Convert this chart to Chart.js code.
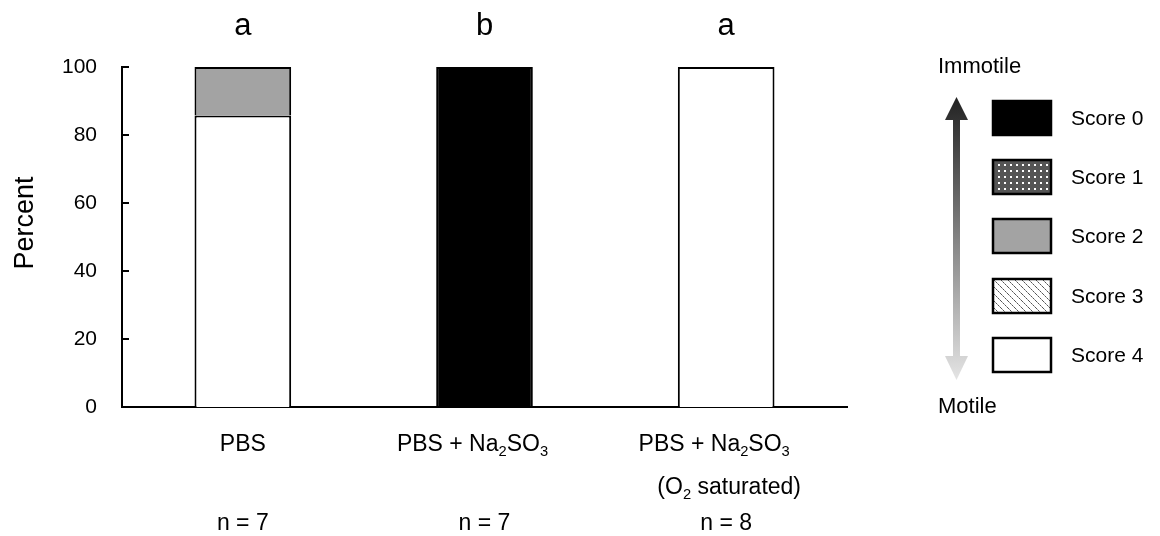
<!DOCTYPE html>
<html>
<head>
<meta charset="utf-8">
<script src="https://cdn.jsdelivr.net/npm/chart.js@4.4.1/dist/chart.umd.min.js"></script>
<style>
  html, body { margin: 0; padding: 0; background: #fff; }
  #wrap { width: 1160px; height: 536px; position: relative; }
</style>
</head>
<body>
<div id="wrap"><canvas id="chart"></canvas></div>
<script>
const categories = ['PBS', 'PBS + Na₂SO₃', 'PBS + Na₂SO₃'];
const subLabels = ['', '', '(O₂ saturated)'];
const groupSizes = ['n = 7', 'n = 7', 'n = 8'];
const sigLetters = ['a', 'b', 'a'];
const scoreNames = ['Score 0', 'Score 1', 'Score 2', 'Score 3', 'Score 4'];

// percent of animals per score, per group
const score0 = [null, 100, null];
const score1 = [null, null, null];
const score2 = [14.3, null, null];
const score3 = [null, null, null];
const score4 = [85.7, null, 100];

const yTicks = [0, 20, 40, 60, 80, 100];

const FONT = '"Liberation Sans", Arial, Helvetica, sans-serif';

function dotPattern() {
    const c = document.createElement('canvas');
    c.width = 6; c.height = 6;
    const g = c.getContext('2d');
    g.fillStyle = '#555';
    g.fillRect(0, 0, 6, 6);
    g.fillStyle = '#fff';
    g.fillRect(2, 2, 2, 2);
    return g.createPattern(c, 'repeat');
}

function hatchPattern() {
    const c = document.createElement('canvas');
    c.width = 7; c.height = 7;
    const g = c.getContext('2d');
    g.fillStyle = '#fff';
    g.fillRect(0, 0, 7, 7);
    for (let i = 0; i < 7; i++) {
        g.fillStyle = i % 2 ? '#999' : '#555';
        g.fillRect(i, i, 1, 1);
    }
    return g.createPattern(c, 'repeat');
}

const scoreColors = ['#000000', dotPattern(), '#a3a3a3', hatchPattern(), '#ffffff'];

// text with unicode subscript digits drawn as small lowered digits
function drawRich(ctx, text, cx, baseline, size) {
    const subs = '₀₁₂₃₄₅₆₇₈₉';
    const runs = [];
    for (const ch of text) {
        const k = subs.indexOf(ch);
        const sub = k >= 0;
        const c = sub ? String(k) : ch;
        if (runs.length && runs[runs.length - 1].sub === sub) runs[runs.length - 1].t += c;
        else runs.push({ t: c, sub });
    }
    const subSize = size * 0.64;
    let total = 0;
    runs.forEach(r => {
        ctx.font = (r.sub ? subSize : size) + 'px ' + FONT;
        r.w = ctx.measureText(r.t).width;
        total += r.w;
    });
    let x = cx - total / 2;
    ctx.textAlign = 'left';
    ctx.textBaseline = 'alphabetic';
    runs.forEach(r => {
        ctx.font = (r.sub ? subSize : size) + 'px ' + FONT;
        ctx.fillText(r.t, x, baseline + (r.sub ? size * 0.2 : 0));
        x += r.w;
    });
}

const extras = {
    id: 'extras',
    afterDraw(chart) {
        const ctx = chart.ctx;
        const x = chart.scales.x, y = chart.scales.y;
        const area = chart.chartArea;
        ctx.save();
        ctx.fillStyle = '#000';

        // inward y ticks
        ctx.strokeStyle = '#000';
        ctx.lineWidth = 2;
        yTicks.forEach(v => {
            const py = Math.round(y.getPixelForValue(v));
            ctx.beginPath();
            ctx.moveTo(area.left, py);
            ctx.lineTo(area.left + 7, py);
            ctx.stroke();
        });

        // category labels, letters, n
        categories.forEach((c, i) => {
            const px = x.getPixelForValue(i);
            const shift = c.includes('₂') ? -12 : 0;
            drawRich(ctx, c, px + shift, 451, 23);
            if (subLabels[i]) drawRich(ctx, subLabels[i], px + 3, 494, 23);
            drawRich(ctx, groupSizes[i], px, 530, 23);
            drawRich(ctx, sigLetters[i], px, 35, 31);
        });

        // y title
        ctx.save();
        ctx.translate(33, 223);
        ctx.rotate(-Math.PI / 2);
        ctx.font = '27px ' + FONT;
        ctx.textAlign = 'center';
        ctx.textBaseline = 'alphabetic';
        ctx.fillText('Percent', 0, 0);
        ctx.restore();

        // arrow
        const grad = ctx.createLinearGradient(0, 97, 0, 380);
        grad.addColorStop(0, '#222');
        grad.addColorStop(1, '#e4e4e4');
        ctx.fillStyle = grad;
        ctx.fillRect(953, 118, 7, 240);
        ctx.beginPath();
        ctx.moveTo(956.5, 97); ctx.lineTo(968, 120); ctx.lineTo(945, 120); ctx.closePath();
        ctx.fill();
        ctx.beginPath();
        ctx.moveTo(956.5, 380); ctx.lineTo(968, 356); ctx.lineTo(945, 356); ctx.closePath();
        ctx.fill();

        ctx.fillStyle = '#000';
        ctx.font = '22px ' + FONT;
        ctx.textAlign = 'left';
        ctx.fillText('Immotile', 938, 73);
        ctx.fillText('Motile', 938, 413);

        // legend boxes, Score 0 at top
        const tops = [101, 160, 219, 279, 338];
        scoreNames.forEach((name, i) => {
            const ds = chart.data.datasets.find(d => d.label === name);
            ctx.fillStyle = ds.backgroundColor;
            ctx.fillRect(993, tops[i], 58, 34);
            ctx.strokeStyle = '#000';
            ctx.lineWidth = 2.5;
            ctx.strokeRect(993, tops[i], 58, 34);
            ctx.fillStyle = '#000';
            ctx.font = '21px ' + FONT;
            ctx.textBaseline = 'middle';
            ctx.fillText(name, 1071, tops[i] + 18);
        });
        ctx.restore();
    }
};

const seriesData = [score4, score3, score2, score1, score0];
const datasets = [4, 3, 2, 1, 0].map((s, k) => ({
    label: scoreNames[s],
    data: seriesData[k],
    backgroundColor: scoreColors[s],
    borderColor: '#000',
    borderWidth: 2,
    categoryPercentage: 1,
    barPercentage: 0.4,
}));

new Chart(document.getElementById('chart'), {
    type: 'bar',
    data: { labels: categories, datasets },
    options: {
        responsive: true,
        maintainAspectRatio: false,
        animation: false,
        layout: { padding: { top: 67, right: 313, left: 0, bottom: 0 } },
        plugins: { legend: { display: false }, tooltip: { enabled: false } },
        scales: {
            x: {
                stacked: true,
                grid: { display: false },
                border: { display: true, color: '#000', width: 2 },
                ticks: { display: false },
                afterFit: (s) => { s.height = 129; },
            },
            y: {
                stacked: true,
                min: 0,
                max: 100,
                grid: { display: false, drawTicks: false },
                border: { display: true, color: '#000', width: 2 },
                ticks: {
                    stepSize: 20,
                    padding: 25,
                    color: '#000',
                    font: { family: FONT, size: 21 },
                },
                afterFit: (s) => { s.width = 122; },
            }
        }
    },
    plugins: [extras]
});
</script>
</body>
</html>
